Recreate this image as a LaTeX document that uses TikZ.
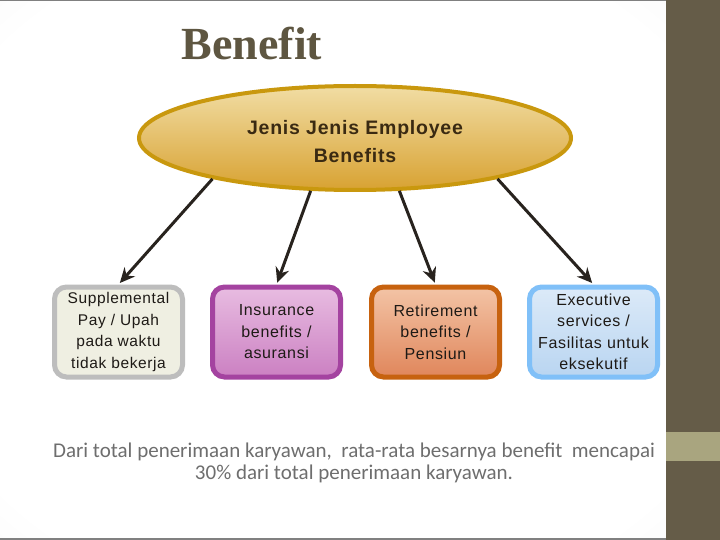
\documentclass[tikz,border=0pt]{standalone}
\usepackage{fontspec}
\setmainfont{Liberation Sans}
\newfontfamily\titlefont{Liberation Serif}
\newfontfamily\bodyfont{Carlito}
\newfontfamily\boxfont[LetterSpace=4]{Liberation Sans}
\newfontfamily\ellfont[LetterSpace=4]{Liberation Sans}
\usetikzlibrary{shapes.geometric,arrows.meta}
\definecolor{slidebrown}{HTML}{655C48}
\definecolor{bandtan}{HTML}{A9A57F}
\definecolor{titlec}{HTML}{5E5641}
\definecolor{elltop}{HTML}{F1DDA4}
\definecolor{ellbot}{HTML}{D8A232}
\definecolor{ellborder}{HTML}{C9980E}
\definecolor{elltext}{HTML}{3A2A12}
\definecolor{boxtext}{HTML}{1E1A16}
\definecolor{grayfill}{HTML}{EFEFE2}
\definecolor{grayborder}{HTML}{BDBDBD}
\definecolor{purtop}{HTML}{E8BCE1}
\definecolor{purbot}{HTML}{CB80C2}
\definecolor{purborder}{HTML}{A443A0}
\definecolor{ortop}{HTML}{F3C4A6}
\definecolor{orbot}{HTML}{E0865B}
\definecolor{orborder}{HTML}{C7620F}
\definecolor{bltop}{HTML}{DCEAF8}
\definecolor{blbot}{HTML}{B9D5F1}
\definecolor{blborder}{HTML}{80C0F8}
\definecolor{bodytext}{HTML}{6E6E6E}
\definecolor{arrowc}{HTML}{28231E}
\pgfdeclareradialshading{vign}{\pgfpoint{0bp}{0bp}}{color(0bp)=(white); color(32bp)=(white); color(50bp)=(black!6); color(71bp)=(black!13)}
\tikzset{
  catbox/.style={rectangle, rounded corners=12pt, line width=5pt,
    minimum width=128pt, minimum height=90pt, inner sep=0pt, align=center,
    text=boxtext, font=\boxfont\fontsize{16}{21.5}\selectfont},
  arr/.style={line width=3pt, draw=arrowc, shorten >=2pt,
    -{Stealth[length=15pt,width=14pt,inset=5pt]}}
}
\begin{document}
\begin{tikzpicture}[x=1pt,y=-1pt]
\useasboundingbox (0,0) rectangle (720,540);
\shade[shading=vign] (0,0) rectangle (666,540);
\fill[slidebrown] (666,0) rectangle (720,540);
\fill[bandtan] (666,432) rectangle (720,461);
\draw[black!50, line width=1.5pt] (0,0.75) -- (666,0.75);
\draw[black!50, line width=2pt] (0,539) -- (666,539);

\node[font=\titlefont\bfseries\fontsize{46}{50}\selectfont, text=titlec] (title) at (252,44) {Benefit};

\node[ellipse, minimum width=432pt, minimum height=104pt, draw=ellborder,
  line width=4pt, top color=elltop, bottom color=ellbot, inner sep=0pt] (ell) at (355,138) {};
\node[align=center, text=elltext, font=\ellfont\bfseries\fontsize{19.5}{28}\selectfont] (elltxt) at (355,142) {Jenis Jenis Employee\\Benefits};

\node[catbox, draw=grayborder, fill=grayfill, font=\boxfont\fontsize{15.5}{21.5}\selectfont] (b1) at (118.5,332) {Supplemental\\Pay / Upah\\pada waktu\\tidak bekerja};
\node[catbox, draw=purborder, top color=purtop, bottom color=purbot] (b2) at (276.5,332) {Insurance\\benefits /\\asuransi};
\node[catbox, draw=orborder, top color=ortop, bottom color=orbot] (b3) at (435.5,332) {Retirement\\benefits /\\Pensiun};
\node[catbox, draw=blborder, top color=bltop, bottom color=blbot] (b4) at (593.5,332) {Executive\\services /\\Fasilitas untuk\\eksekutif};

\draw[arr] (ell.196) -- (b1.north);
\draw[arr] (ell.230) -- (b2.north);
\draw[arr] (ell.310) -- (b3.north);
\draw[arr] (ell.344) -- (b4.north);

\node[align=center, text=bodytext, font=\bodyfont\fontsize{21}{22.5}\selectfont] (note) at (354,463)
  {Dari total penerimaan karyawan,\ \ rata-rata besarnya benefit\ \ mencapai\\30\% dari total penerimaan karyawan.};
\end{tikzpicture}
\end{document}
